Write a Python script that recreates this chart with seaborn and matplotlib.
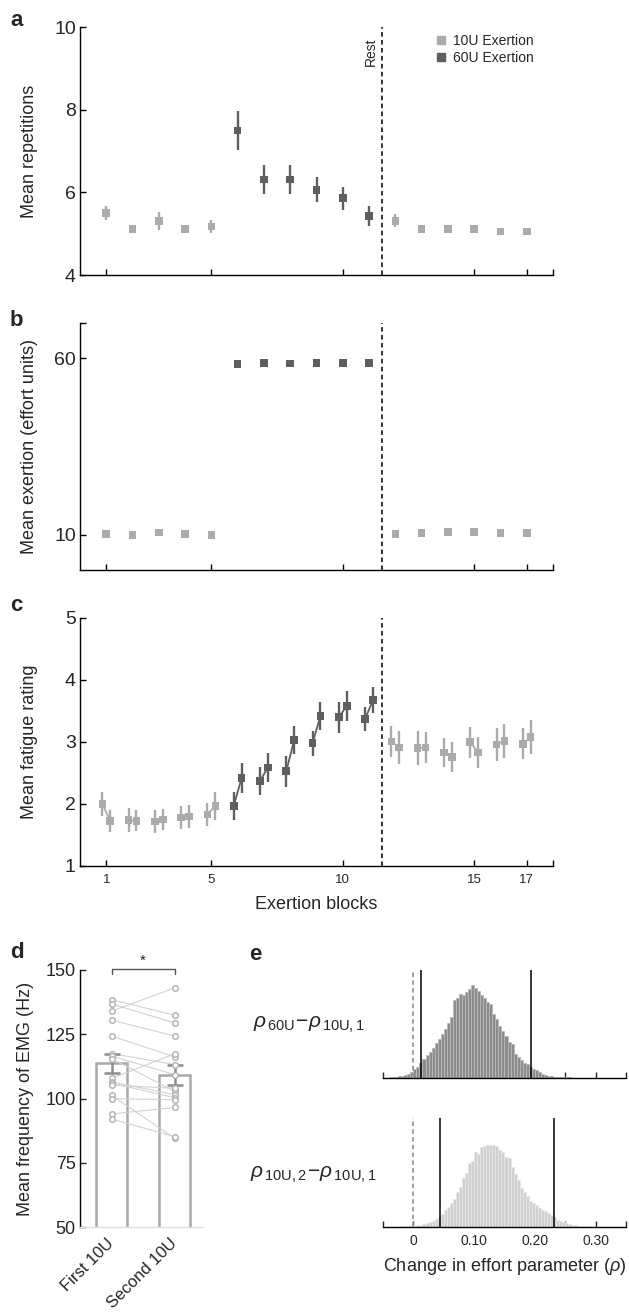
import numpy as np
import pandas as pd
import matplotlib
matplotlib.use("Agg")
import matplotlib.pyplot as plt
import seaborn as sns
from matplotlib.lines import Line2D

# ---------------- data ----------------
blocks = list(range(1, 18))
block_cond = ['10U'] * 5 + ['60U'] * 6 + ['10U'] * 6

reps_mean = [5.50, 5.11, 5.30, 5.11, 5.17, 7.50, 6.31, 6.31, 6.06, 5.86, 5.43,
             5.31, 5.11, 5.11, 5.11, 5.05, 5.05]
reps_err = [0.18, 0.09, 0.22, 0.09, 0.16, 0.47, 0.36, 0.34, 0.30, 0.28, 0.25,
            0.16, 0.10, 0.09, 0.10, 0.06, 0.06]

exert_mean = [10.2, 10.0, 10.6, 10.2, 10.0, 58.3, 58.7, 58.5, 58.7, 58.7, 58.7,
              10.2, 10.5, 10.7, 10.7, 10.5, 10.5]

fat_first = [2.00, 1.74, 1.72, 1.78, 1.83, 1.97, 2.37, 2.53, 2.98, 3.40, 3.37,
             3.01, 2.90, 2.83, 3.00, 2.96, 2.97]
fat_second = [1.73, 1.73, 1.75, 1.80, 1.97, 2.42, 2.59, 3.03, 3.42, 3.58, 3.68,
              2.91, 2.91, 2.76, 2.83, 3.02, 3.08]
fat_first_err = [0.20, 0.19, 0.18, 0.19, 0.18, 0.23, 0.23, 0.25, 0.20, 0.25, 0.20,
                 0.25, 0.27, 0.24, 0.25, 0.27, 0.25]
fat_second_err = [0.18, 0.17, 0.17, 0.18, 0.23, 0.24, 0.24, 0.23, 0.23, 0.24, 0.21,
                  0.26, 0.25, 0.24, 0.25, 0.27, 0.28]

block_ticks = [1, 5, 10, 15, 17, 18]
block_tick_labels = ['1', '5', '10', '15', '17', '']
rest_position = 11.5

emg_conditions = ['First 10U', 'Second 10U']
emg_first = [138.5, 136.8, 134.0, 130.5, 124.3, 117.5, 116.5, 115.5, 107.8, 106.5,
             106.0, 105.2, 101.2, 100.0, 94.0, 92.0]
emg_second = [132.4, 129.4, 143.0, 124.3, 116.2, 113.2, 109.3, 102.8, 117.4, 101.5,
              100.3, 104.0, 84.6, 99.5, 96.5, 85.2]
emg_bar_mean = [113.7, 109.2]
emg_bar_sem = [3.7, 3.9]

hist_bin_start = -0.05
hist_bin_width = 0.005
hist_60u = [1, 1, 2, 2, 3, 5, 7, 10, 13, 17,
            26, 33, 45, 56, 68, 78, 90, 104, 118, 132,
            148, 165, 183, 232, 240, 250, 248, 258, 265, 278,
            270, 260, 248, 238, 226, 222, 190, 175, 156, 140,
            125, 108, 103, 72, 62, 53, 45, 42, 33, 28,
            24, 18, 13, 9, 7, 5, 4, 3, 3, 2,
            2, 1.5, 1, 1, 1, 0.5, 0.5, 0.5, 0.3, 0.3,
            0.3, 0.2, 0.2, 0.2, 0.1, 0.1, 0, 0, 0, 0]
hist_10u2 = [0.5, 0.5, 1, 1, 1, 1.5, 2, 2, 3, 3,
             4, 5, 7, 9, 12, 15, 19, 23, 29, 40,
             52, 62, 72, 85, 105, 120, 148, 165, 195, 200,
             228, 222, 243, 246, 247, 248, 247, 244, 234, 228,
             212, 208, 182, 160, 142, 118, 107, 93, 80, 74,
             67, 57, 52, 48, 42, 36, 29, 22, 17, 14,
             11, 8, 6, 5, 4, 3, 2, 2, 1.5, 1,
             1, 0.5, 0.5, 0.3, 0.3, 0.2, 0.2, 0.1, 0, 0]
ci_60u = [0.012, 0.193]
ci_10u2 = [0.044, 0.232]
rho_ticks = [-0.05, 0, 0.05, 0.10, 0.15, 0.20, 0.25, 0.30, 0.35]
rho_tick_labels = ['', '0', '', '0.10', '', '0.20', '', '0.30', '']

# ---------------- style ----------------
sns.set_theme(style="ticks")
plt.rcParams['font.family'] = ['Liberation Sans', 'DejaVu Sans']
plt.rcParams['mathtext.fontset'] = 'custom'
plt.rcParams['mathtext.rm'] = 'Liberation Sans'
plt.rcParams['mathtext.it'] = 'Liberation Sans:italic'
plt.rcParams['mathtext.bf'] = 'Liberation Sans:bold'
plt.rcParams['axes.linewidth'] = 1.0
plt.rcParams['axes.edgecolor'] = 'black'

light = '#ababab'
dark = '#5f5f5f'
pal = {'10U': light, '60U': dark}

W, H = 629, 1314
fig = plt.figure(figsize=(W / 100, H / 100), dpi=100)


def rect(x0, y0, x1, y1):
    return [x0 / W, 1 - y1 / H, (x1 - x0) / W, (y1 - y0) / H]


axA = fig.add_axes(rect(80, 27, 553, 275))
axB = fig.add_axes(rect(80, 323, 553, 570))
axC = fig.add_axes(rect(80, 618, 553, 866))
axD = fig.add_axes(rect(80, 970, 203, 1227))
axE1 = fig.add_axes(rect(383, 970, 626, 1078))
axE2 = fig.add_axes(rect(383, 1118, 626, 1227))

df = pd.DataFrame({'block': blocks, 'cond': block_cond, 'reps': reps_mean,
                   'reps_err': reps_err, 'exert': exert_mean})


def style_block_axis(ax, labels=False):
    sns.despine(ax=ax)
    ax.set_xlim(0, 18)
    ax.set_xticks(block_ticks)
    ax.set_xticklabels(block_tick_labels if labels else [''] * len(block_ticks))
    ax.tick_params(axis='both', direction='in', length=4, width=1, color='black')
    ax.tick_params(axis='y', labelsize=14, pad=3)
    ax.tick_params(axis='x', labelsize=9.5, pad=6)
    ax.axvline(rest_position, color='black', lw=1.1, ls=(0, (3, 2.2)), zorder=1)
    ax.set_xlabel('')


# ---- panel a ----
for cond, g in df.groupby('cond'):
    axA.errorbar(g['block'], g['reps'], yerr=g['reps_err'], fmt='none',
                 ecolor=pal[cond], elinewidth=1.7, capsize=0, zorder=2)
sns.scatterplot(data=df, x='block', y='reps', hue='cond', palette=pal, marker='s',
                s=30, linewidth=0, legend=False, ax=axA, zorder=3)
axA.set_ylim(4, 10)
axA.set_yticks([4, 6, 8, 10])
style_block_axis(axA)
axA.set_ylabel('Mean repetitions', fontsize=13)
axA.yaxis.set_label_coords(-0.088, 0.5)
axA.text(11.08, 9.4, 'Rest', rotation=90, ha='center', va='center', fontsize=10)
handles = [Line2D([], [], marker='s', ls='none', color=light, markersize=6, label='10U Exertion'),
           Line2D([], [], marker='s', ls='none', color=dark, markersize=6, label='60U Exertion')]
axA.legend(handles=handles, loc='upper left', bbox_to_anchor=((436 - 80) / 473, (275 - 34) / 248),
           frameon=False, fontsize=10, handlelength=0.7, handletextpad=0.5,
           borderpad=0, borderaxespad=0, labelspacing=0.2)

# ---- panel b ----
sns.scatterplot(data=df, x='block', y='exert', hue='cond', palette=pal, marker='s',
                s=30, linewidth=0, legend=False, ax=axB, zorder=3)
axB.set_ylim(0, 70)
axB.set_yticks([10, 60, 70])
axB.set_yticklabels(['10', '60', ''])
style_block_axis(axB)
axB.set_ylabel('Mean exertion (effort units)', fontsize=13)
axB.yaxis.set_label_coords(-0.088, 0.5)

# ---- panel c ----
offset = 0.15
fat_long = pd.DataFrame({
    'block': blocks + blocks,
    'pos': [b - offset for b in blocks] + [b + offset for b in blocks],
    'val': fat_first + fat_second,
    'err': fat_first_err + fat_second_err,
    'cond': block_cond + block_cond,
})
for cond, g in fat_long.groupby('cond'):
    axC.errorbar(g['pos'], g['val'], yerr=g['err'], fmt='none', ecolor=pal[cond],
                 elinewidth=1.7, capsize=0, zorder=2)
sns.lineplot(data=fat_long, x='pos', y='val', units='block', estimator=None, hue='cond',
             palette=pal, lw=1.3, legend=False, ax=axC, zorder=2.5)
sns.scatterplot(data=fat_long, x='pos', y='val', hue='cond', palette=pal, marker='s',
                s=30, linewidth=0, legend=False, ax=axC, zorder=3)
axC.set_ylim(1, 5)
axC.set_yticks([1, 2, 3, 4, 5])
style_block_axis(axC, labels=True)
axC.set_ylabel('Mean fatigue rating', fontsize=13)
axC.yaxis.set_label_coords(-0.088, 0.5)
axC.set_xlabel('Exertion blocks', fontsize=13, labelpad=7)

# ---- panel d ----
bar_edge = '#a9a9a9'
sns.barplot(x=[0, 1], y=emg_bar_mean, native_scale=True, color='white', edgecolor=bar_edge,
            linewidth=1.8, width=0.5, errorbar=None, ax=axD, zorder=1)
subj = list(range(len(emg_first)))
emg_long = pd.DataFrame({'subject': subj + subj,
                         'pos': [0] * len(emg_first) + [1] * len(emg_second),
                         'freq': emg_first + emg_second})
sns.lineplot(data=emg_long, x='pos', y='freq', units='subject', estimator=None,
             color='#d2d2d2', lw=0.8, ax=axD, zorder=2)
axD.errorbar([0, 1], emg_bar_mean, yerr=emg_bar_sem, fmt='none', ecolor='#8c8c8c',
             elinewidth=1.8, capsize=6, capthick=1.8, zorder=3)
sns.scatterplot(data=emg_long, x='pos', y='freq', color='white', edgecolor='#b0b0b0',
                linewidth=1.0, s=16, marker='o', ax=axD, zorder=4)
axD.set_xlim(-0.5, 1.45)
axD.set_ylim(50, 150)
axD.set_yticks([50, 75, 100, 125, 150])
axD.set_xticks([0, 1])
axD.set_xticklabels(emg_conditions, rotation=45, ha='right', va='center',
                    rotation_mode='anchor', fontsize=12)
sns.despine(ax=axD)
axD.spines['bottom'].set_color('#dedede')
axD.tick_params(axis='y', direction='in', length=4, width=1, labelsize=13, pad=3)
axD.tick_params(axis='x', length=0, pad=10)
axD.set_xlabel('')
axD.set_ylabel('Mean frequency of EMG (Hz)', fontsize=13)
axD.yaxis.set_label_coords(-0.37, 0.5)
axD.plot([0, 0, 1, 1], [148.4, 150.4, 150.4, 148.4], color='#555555', lw=1, clip_on=False)
axD.text(0.5, 153.5, '*', ha='center', va='center', fontsize=11)

# ---- panel e ----
n_bins = len(hist_60u)
centers = hist_bin_start + hist_bin_width * (np.arange(n_bins) + 0.5)
bin_range = (hist_bin_start, hist_bin_start + hist_bin_width * n_bins)
for ax, heights, ci, fc, ec, top in [(axE1, hist_60u, ci_60u, '#8d8d8d', '#b9b9b9', 323),
                                      (axE2, hist_10u2, ci_10u2, '#d0d0d0', '#e6e6e6', 330)]:
    hdf = pd.DataFrame({'rho': centers, 'w': heights})
    sns.histplot(data=hdf, x='rho', weights='w', binwidth=hist_bin_width, binrange=bin_range,
                 color=fc, edgecolor=ec, linewidth=0.6, alpha=1, ax=ax)
    ax.axvline(0, color='#9a9a9a', lw=1.3, ls=(0, (2.5, 1.8)), zorder=3)
    for c in ci:
        ax.axvline(c, color='black', lw=1.1, zorder=4)
    ax.set_xlim(-0.05, 0.35)
    ax.set_ylim(0, top)
    ax.set_xticks(rho_ticks)
    ax.set_yticks([])
    ax.set_ylabel('')
    ax.set_xlabel('')
    sns.despine(ax=ax, left=True)
    ax.tick_params(axis='x', direction='in', length=4, width=1, labelsize=10, pad=5)
axE1.set_xticklabels([''] * len(rho_ticks))
axE2.set_xticklabels(rho_tick_labels)
axE2.set_xlabel(r'Change in effort parameter ($\rho$)', fontsize=13, labelpad=6)

fig.text(253 / W, 1 - 1025 / H, r'$\rho_{\,\mathrm{60U}}\!-\!\rho_{\,\mathrm{10U,1}}$',
         fontsize=15, ha='left', va='center')
fig.text(250 / W, 1 - 1175 / H, r'$\rho_{\,\mathrm{10U,2}}\!-\!\rho_{\,\mathrm{10U,1}}$',
         fontsize=15, ha='left', va='center')

# panel letters
for lbl, x, y in [('a', 10, 20), ('b', 10, 320), ('c', 10, 606), ('d', 10, 953), ('e', 249, 955)]:
    fig.text(x / W, 1 - y / H, lbl, fontsize=16, fontweight='bold', ha='left', va='center')

fig.savefig('out.png', dpi=100)
